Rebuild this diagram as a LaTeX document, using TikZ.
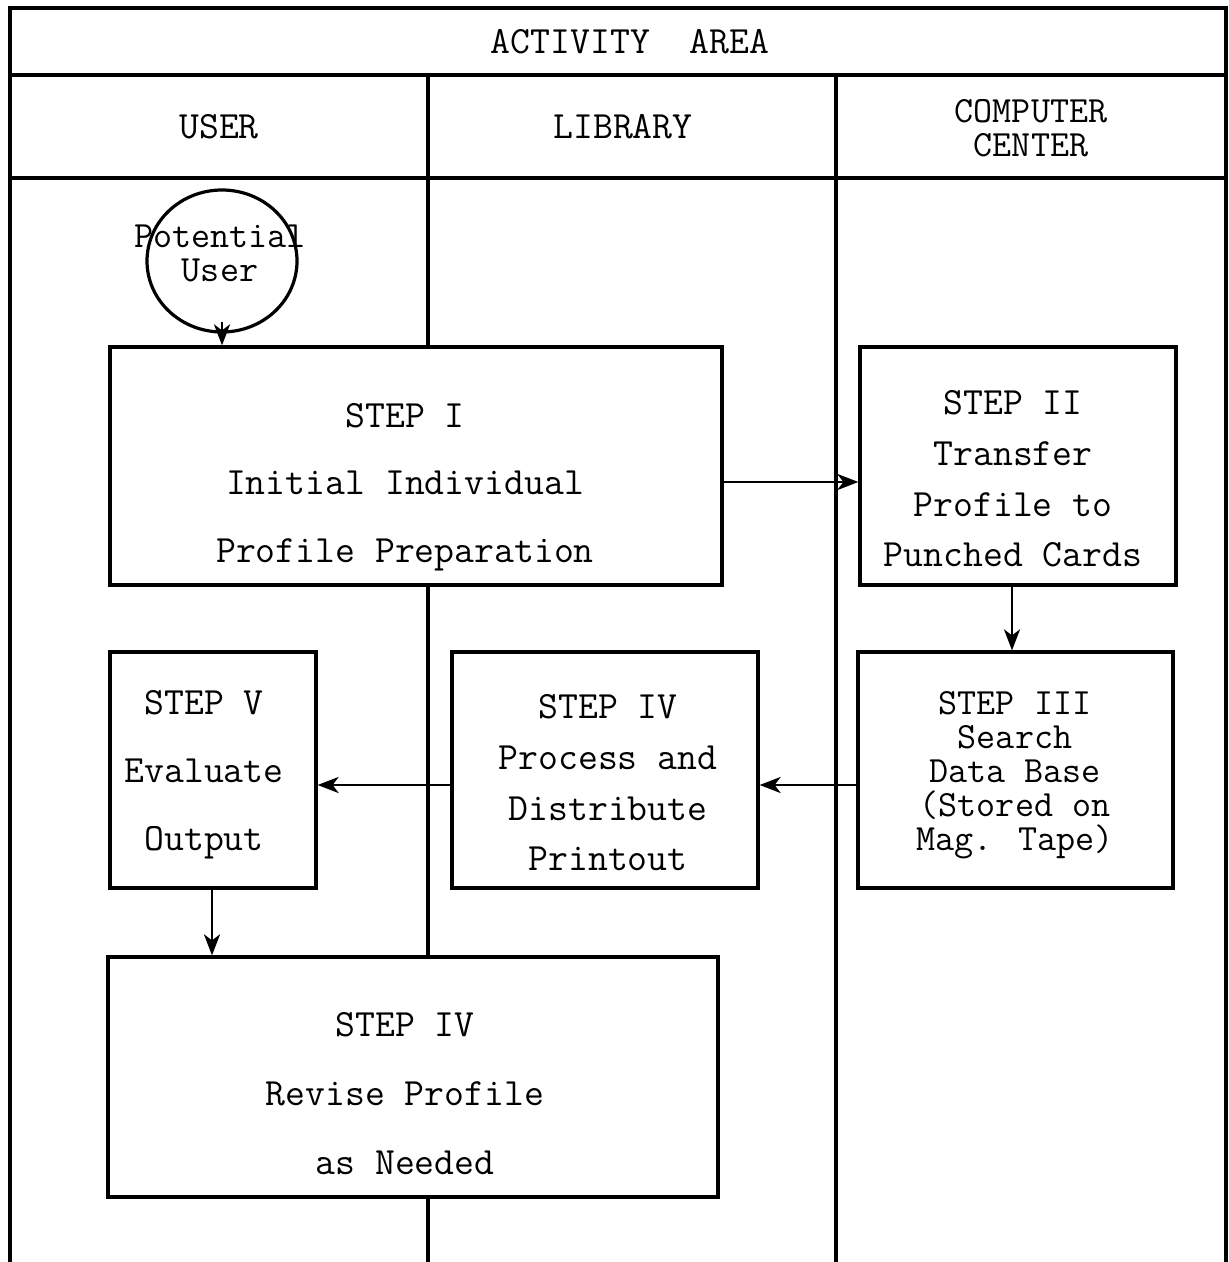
\documentclass[tikz,border=0pt]{standalone}
\usepackage{fontspec}
\usetikzlibrary{arrows.meta,shapes.geometric,calc}
\lineskiplimit=-100pt
\lineskip=0pt
\begin{document}
\begin{tikzpicture}[x=0.5pt,y=-0.5pt,
  frame/.style={line width=1.6pt},
  box/.style={draw, line width=1.6pt, fill=white, inner sep=0pt, minimum height=119pt},
  txt/.style={font=\ttfamily\fontsize{19.3}{#1}\selectfont, align=center, inner sep=0pt},
  tight/.style={font=\ttfamily\fontsize{18.5}{17}\selectfont, align=center, inner sep=0pt},
  arr/.style={-{Stealth[length=10.5pt,width=8pt,inset=3pt]}, line width=1.4pt},
  oval/.style={draw, ellipse, line width=1.6pt, inner sep=0pt, minimum width=75pt, minimum height=71pt}
]
\fill[white] (0,0) rectangle (1228,1262);
\useasboundingbox (0,0) rectangle (1228,1262);
% frame and lanes
\draw[frame] (10,1262) -- (10,8) -- (1226,8) -- (1226,1262);
\draw[frame] (10,75) -- (1226,75);
\draw[frame] (10,178) -- (1226,178);
\draw[frame] (428,75) -- (428,1262);
\draw[frame] (836,75) -- (836,1262);
% headers
\node[txt=17] (hdr) at (630,42) {ACTIVITY\ \ AREA};
\node[txt=17] (huser) at (219,127) {USER};
\node[txt=17] (hlib) at (623,127) {LIBRARY};
\node[tight] (hcc) at (1031,128) {COMPUTER\\CENTER};
% potential user
\node[oval] (circ) at (222,261) {};
\node[tight] (pu) at (220,253) {Potential\\User};
% steps
\node[box, minimum width=306pt] (s1) at (416,466) {};
\node[txt=33.75] (t1) at (405,487) {STEP I\\Initial Individual\\Profile Preparation};
\node[box, minimum width=158pt] (s2) at (1018,466) {};
\node[txt=25.35] (t2) at (1013,479) {STEP II\\Transfer\\Profile to\\Punched Cards};
\node[box, minimum width=157.5pt, minimum height=118pt] (s3) at (1015.5,770) {};
\node[tight] (t3) at (1015,775) {STEP III\\Search\\Data Base\\(Stored on\\Mag. Tape)};
\node[box, minimum width=153pt, minimum height=118pt] (s4) at (605,770) {};
\node[txt=25.35] (t4) at (608,783) {STEP IV\\Process and\\Distribute\\Printout};
\node[box, minimum width=103pt, minimum height=118pt] (s5) at (213,770) {};
\node[txt=34] (t5) at (204,775) {STEP V\\Evaluate\\Output};
\node[box, minimum width=305pt, minimum height=120pt] (s6) at (413,1077) {};
\node[txt=34.5] (t6) at (405,1094) {STEP IV\\Revise Profile\\as Needed};
% connectors
\draw[arr] ([yshift=6pt]circ.south) -- (circ.south |- s1.north);
\draw[arr] ([yshift=-8pt]s1.east) -- ([yshift=-8pt]s2.west);
\draw[arr] ([xshift=-3pt]s2.south) -- ([xshift=-3pt]s2.south |- s3.north);
\draw[arr] ([yshift=-7.5pt]s3.west) -- ([yshift=-7.5pt]s3.west -| s4.east);
\draw[arr] ([yshift=-7.5pt]s4.west) -- ([yshift=-7.5pt]s4.west -| s5.east);
\draw[arr] ([xshift=-0.5pt]s5.south) -- ([xshift=-0.5pt]s5.south |- s6.north);
\end{tikzpicture}
\end{document}
